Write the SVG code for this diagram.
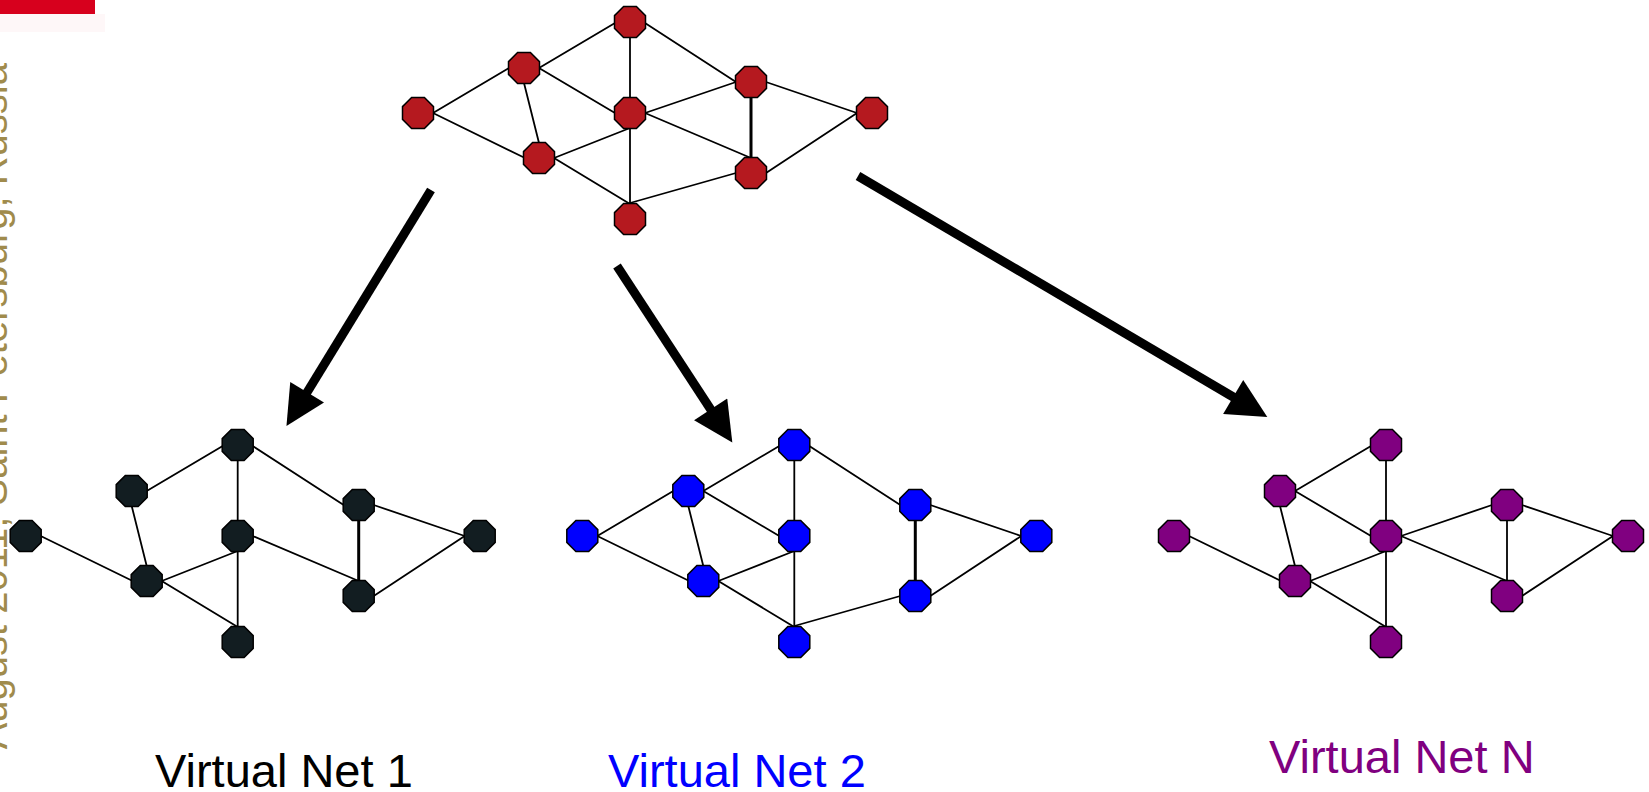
<svg xmlns="http://www.w3.org/2000/svg" xmlns:xlink="http://www.w3.org/1999/xlink" width="1649" height="792" viewBox="0 0 1649 792">
<style>
.e{stroke:#000;stroke-width:1.8;fill:none;stroke-linecap:round}
.thick{stroke-width:3}
.arr{stroke:#000;stroke-width:9;fill:none;marker-end:url(#head)}
.node use{stroke:#000;stroke-width:1.5}
.red use{fill:#b5191f}
.dark use{fill:#121d21}
.blue use{fill:#0000ff}
.purple use{fill:#800080}
.lbl{font-family:"Liberation Sans",Arial,sans-serif;font-size:47px}
.side{font-family:"Liberation Sans",Arial,sans-serif;font-size:40px;fill:#a08b4c}
</style>
<defs>
<polygon id="oct" points="-6.4,-15.5 6.4,-15.5 15.5,-6.4 15.5,6.4 6.4,15.5 -6.4,15.5 -15.5,6.4 -15.5,-6.4"/>
<marker id="head" viewBox="0 0 10 10" refX="2" refY="5" markerWidth="4.6" markerHeight="4.4" markerUnits="strokeWidth" orient="auto">
<path d="M0,0 L10,5 L0,10 z" fill="#000"/>
</marker>
</defs>
<rect width="1649" height="792" fill="#fff"/>
<rect x="0" y="14" width="105" height="18" fill="#fef7f8"/>
<rect x="0" y="0" width="95" height="14" fill="#d7001d"/>
<text class="side" transform="translate(7,63) rotate(-90)" text-anchor="end">August 2011, Saint Petersburg, Russia</text>

<!-- Physical network (top) -->
<g id="physical">
<g id="physical-edges">
<line class="e" x1="433" y1="113" x2="509" y2="68"/>
<line class="e" x1="433" y1="113" x2="525" y2="158"/>
<line class="e" x1="539" y1="68" x2="615" y2="23"/>
<line class="e" x1="539" y1="68" x2="615" y2="113"/>
<line class="e" x1="524" y1="83" x2="539" y2="143"/>
<line class="e" x1="630" y1="37" x2="630" y2="98"/>
<line class="e" x1="645" y1="23" x2="736" y2="82"/>
<line class="e" x1="645" y1="113" x2="736" y2="82"/>
<line class="e" x1="645" y1="113" x2="751" y2="158"/>
<line class="e" x1="630" y1="128" x2="630" y2="204"/>
<line class="e" x1="554" y1="158" x2="630" y2="128"/>
<line class="e" x1="554" y1="158" x2="630" y2="204"/>
<line class="e thick" x1="751" y1="97" x2="751" y2="158"/>
<line class="e" x1="766" y1="82" x2="857" y2="113"/>
<line class="e" x1="766" y1="173" x2="857" y2="113"/>
<line class="e" x1="630" y1="203" x2="736" y2="173"/>
</g>
<g class="node red" id="p-T"><use href="#oct" x="630" y="22"/></g>
<g class="node red" id="p-UL"><use href="#oct" x="524" y="68"/></g>
<g class="node red" id="p-L"><use href="#oct" x="418" y="113"/></g>
<g class="node red" id="p-C"><use href="#oct" x="630" y="113"/></g>
<g class="node red" id="p-LL"><use href="#oct" x="539" y="158"/></g>
<g class="node red" id="p-B"><use href="#oct" x="630" y="219"/></g>
<g class="node red" id="p-UR"><use href="#oct" x="751" y="82"/></g>
<g class="node red" id="p-LR"><use href="#oct" x="751" y="173"/></g>
<g class="node red" id="p-R"><use href="#oct" x="872" y="113"/></g>
</g>

<!-- Big arrows -->
<g id="arrows">
<line class="arr" x1="431" y1="190" x2="303" y2="399"/>
<line class="arr" x1="617" y1="266" x2="715" y2="416"/>
<line class="arr" x1="858" y1="176" x2="1240" y2="401"/>
</g>

<!-- Virtual Net 1 -->
<g id="vnet1" transform="translate(-392.3,423)">
<g id="vnet1-edges">
<line class="e" x1="433" y1="113" x2="525" y2="158"/>
<line class="e" x1="539" y1="68" x2="615" y2="23"/>
<line class="e" x1="524" y1="83" x2="539" y2="143"/>
<line class="e" x1="630" y1="37" x2="630" y2="98"/>
<line class="e" x1="645" y1="23" x2="736" y2="82"/>
<line class="e" x1="645" y1="113" x2="751" y2="158"/>
<line class="e" x1="630" y1="128" x2="630" y2="204"/>
<line class="e" x1="554" y1="158" x2="630" y2="128"/>
<line class="e" x1="554" y1="158" x2="630" y2="204"/>
<line class="e thick" x1="751" y1="97" x2="751" y2="158"/>
<line class="e" x1="766" y1="82" x2="857" y2="113"/>
<line class="e" x1="766" y1="173" x2="857" y2="113"/>
</g>
<g class="node dark" id="v1-T"><use href="#oct" x="630" y="22"/></g>
<g class="node dark" id="v1-UL"><use href="#oct" x="524" y="68"/></g>
<g class="node dark" id="v1-L"><use href="#oct" x="418" y="113"/></g>
<g class="node dark" id="v1-C"><use href="#oct" x="630" y="113"/></g>
<g class="node dark" id="v1-LL"><use href="#oct" x="539" y="158"/></g>
<g class="node dark" id="v1-B"><use href="#oct" x="630" y="219"/></g>
<g class="node dark" id="v1-UR"><use href="#oct" x="751" y="82"/></g>
<g class="node dark" id="v1-LR"><use href="#oct" x="751" y="173"/></g>
<g class="node dark" id="v1-R"><use href="#oct" x="872" y="113"/></g>
</g>

<!-- Virtual Net 2 -->
<g id="vnet2" transform="translate(164.3,423)">
<g id="vnet2-edges">
<line class="e" x1="433" y1="113" x2="509" y2="68"/>
<line class="e" x1="433" y1="113" x2="525" y2="158"/>
<line class="e" x1="539" y1="68" x2="615" y2="23"/>
<line class="e" x1="539" y1="68" x2="615" y2="113"/>
<line class="e" x1="524" y1="83" x2="539" y2="143"/>
<line class="e" x1="630" y1="37" x2="630" y2="98"/>
<line class="e" x1="645" y1="23" x2="736" y2="82"/>
<line class="e" x1="630" y1="128" x2="630" y2="204"/>
<line class="e" x1="554" y1="158" x2="630" y2="128"/>
<line class="e" x1="554" y1="158" x2="630" y2="204"/>
<line class="e thick" x1="751" y1="97" x2="751" y2="158"/>
<line class="e" x1="766" y1="82" x2="857" y2="113"/>
<line class="e" x1="766" y1="173" x2="857" y2="113"/>
<line class="e" x1="630" y1="203" x2="736" y2="173"/>
</g>
<g class="node blue" id="v2-T"><use href="#oct" x="630" y="22"/></g>
<g class="node blue" id="v2-UL"><use href="#oct" x="524" y="68"/></g>
<g class="node blue" id="v2-L"><use href="#oct" x="418" y="113"/></g>
<g class="node blue" id="v2-C"><use href="#oct" x="630" y="113"/></g>
<g class="node blue" id="v2-LL"><use href="#oct" x="539" y="158"/></g>
<g class="node blue" id="v2-B"><use href="#oct" x="630" y="219"/></g>
<g class="node blue" id="v2-UR"><use href="#oct" x="751" y="82"/></g>
<g class="node blue" id="v2-LR"><use href="#oct" x="751" y="173"/></g>
<g class="node blue" id="v2-R"><use href="#oct" x="872" y="113"/></g>
</g>

<!-- Virtual Net N -->
<g id="vnetN" transform="translate(756,423)">
<g id="vnetN-edges">
<line class="e" x1="433" y1="113" x2="525" y2="158"/>
<line class="e" x1="539" y1="68" x2="615" y2="23"/>
<line class="e" x1="539" y1="68" x2="615" y2="113"/>
<line class="e" x1="524" y1="83" x2="539" y2="143"/>
<line class="e" x1="630" y1="37" x2="630" y2="98"/>
<line class="e" x1="645" y1="113" x2="736" y2="82"/>
<line class="e" x1="645" y1="113" x2="751" y2="158"/>
<line class="e" x1="630" y1="128" x2="630" y2="204"/>
<line class="e" x1="554" y1="158" x2="630" y2="128"/>
<line class="e" x1="554" y1="158" x2="630" y2="204"/>
<line class="e" x1="751" y1="97" x2="751" y2="158"/>
<line class="e" x1="766" y1="82" x2="857" y2="113"/>
<line class="e" x1="766" y1="173" x2="857" y2="113"/>
</g>
<g class="node purple" id="vN-T"><use href="#oct" x="630" y="22"/></g>
<g class="node purple" id="vN-UL"><use href="#oct" x="524" y="68"/></g>
<g class="node purple" id="vN-L"><use href="#oct" x="418" y="113"/></g>
<g class="node purple" id="vN-C"><use href="#oct" x="630" y="113"/></g>
<g class="node purple" id="vN-LL"><use href="#oct" x="539" y="158"/></g>
<g class="node purple" id="vN-B"><use href="#oct" x="630" y="219"/></g>
<g class="node purple" id="vN-UR"><use href="#oct" x="751" y="82"/></g>
<g class="node purple" id="vN-LR"><use href="#oct" x="751" y="173"/></g>
<g class="node purple" id="vN-R"><use href="#oct" x="872" y="113"/></g>
</g>

<g id="labels">
<text class="lbl" x="155" y="787" fill="#000">Virtual Net 1</text>
<text class="lbl" x="608" y="787" fill="#0000ff">Virtual Net 2</text>
<text class="lbl" x="1269" y="773" fill="#800080">Virtual Net N</text>
</g>
</svg>
